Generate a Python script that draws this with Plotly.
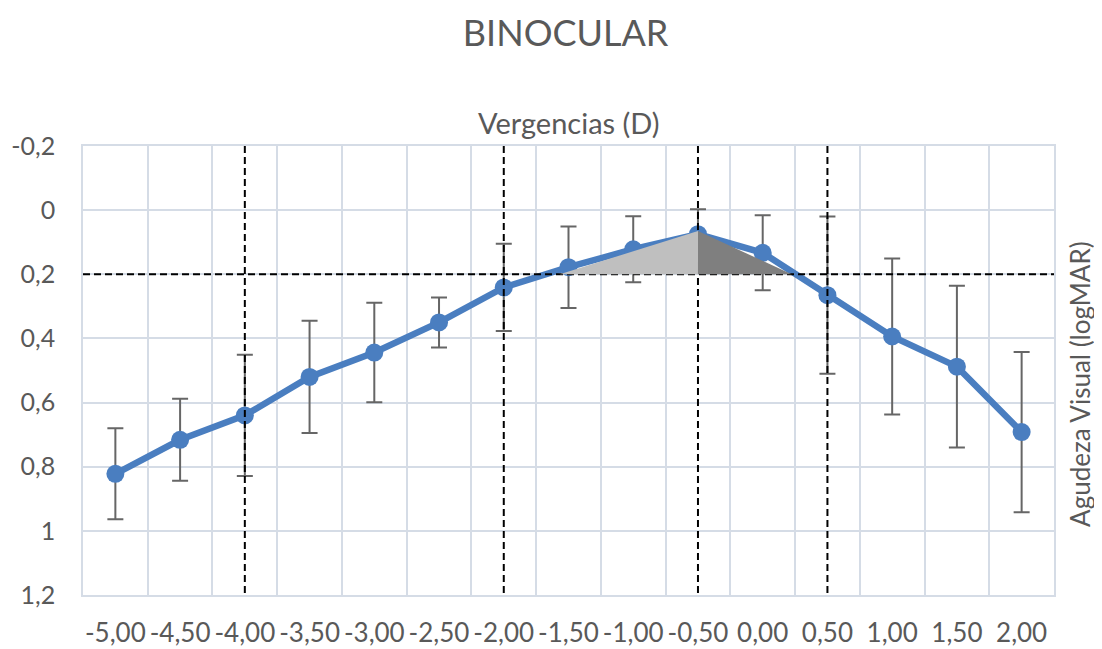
import plotly.graph_objects as go

# ---- data ----
vergencias = [-5.0, -4.5, -4.0, -3.5, -3.0, -2.5, -2.0, -1.5, -1.0, -0.5, 0.0, 0.5, 1.0, 1.5, 2.0]
x_labels = ["-5,00", "-4,50", "-4,00", "-3,50", "-3,00", "-2,50", "-2,00", "-1,50",
            "-1,00", "-0,50", "0,00", "0,50", "1,00", "1,50", "2,00"]
av_logmar = [0.822, 0.716, 0.640, 0.520, 0.444, 0.350, 0.241, 0.178, 0.122, 0.075,
             0.133, 0.265, 0.394, 0.488, 0.692]
av_err = [0.142, 0.128, 0.189, 0.175, 0.155, 0.078, 0.136, 0.127, 0.103, 0.078,
          0.117, 0.245, 0.243, 0.252, 0.250]
y_ticks = [-0.2, 0.0, 0.2, 0.4, 0.6, 0.8, 1.0, 1.2]
y_labels = ["-0,2", "0", "0,2", "0,4", "0,6", "0,8", "1", "1,2"]

threshold_av = 0.2
ref_vergencias = [-4.0, -2.0, -0.5, 0.5]

tri_light_x = [-1.567, -0.5, -0.5]
tri_light_y = [0.2, 0.065, 0.2]
tri_dark_x = [-0.5, -0.5, 0.224]
tri_dark_y = [0.065, 0.2, 0.2]

x_range = [-5.25, 2.25]
y_range = [1.2, -0.2]

FONT = "Lato"
GRAY_TXT = "#595959"
GRID = "#D5DCE6"
BLUE = "#4A7EC0"

fig = go.Figure()

# series with error bars
fig.add_trace(go.Scatter(
    x=vergencias, y=av_logmar, mode="lines+markers",
    line=dict(color=BLUE, width=6.5),
    marker=dict(color=BLUE, size=18),
    error_y=dict(type="data", array=av_err, visible=True,
                 color="#666666", thickness=2, width=8),
    showlegend=False, hoverinfo="skip"))

# dashed reference lines
dash_style = "7px,4px"
fig.add_trace(go.Scatter(
    x=x_range, y=[threshold_av, threshold_av], mode="lines",
    line=dict(color="black", width=2, dash=dash_style),
    showlegend=False, hoverinfo="skip"))
for xv in ref_vergencias:
    fig.add_trace(go.Scatter(
        x=[xv, xv], y=[y_range[1], y_range[0]], mode="lines",
        line=dict(color="black", width=2, dash=dash_style),
        showlegend=False, hoverinfo="skip"))

# shaded triangles
fig.add_trace(go.Scatter(
    x=tri_light_x, y=tri_light_y, mode="lines", fill="toself",
    fillcolor="#BFBFBF", line=dict(width=0, color="#BFBFBF"),
    showlegend=False, hoverinfo="skip"))
fig.add_trace(go.Scatter(
    x=tri_dark_x, y=tri_dark_y, mode="lines", fill="toself",
    fillcolor="#7F7F7F", line=dict(width=0, color="#7F7F7F"),
    showlegend=False, hoverinfo="skip"))

fig.update_layout(
    width=1102, height=649,
    margin=dict(l=75, r=56, t=138, b=62, autoexpand=False),
    paper_bgcolor="white", plot_bgcolor="white",
    font=dict(family=FONT, color=GRAY_TXT),
    title=dict(text="BINOCULAR", x=0.506, xanchor="center", y=0.961, yanchor="middle",
               font=dict(family=FONT, size=36, color=GRAY_TXT)),
    annotations=[
        dict(text="Vergencias (D)", xref="paper", yref="paper", x=0.5, y=1.0,
             yshift=24, xanchor="center", yanchor="middle", showarrow=False,
             font=dict(family=FONT, size=29, color=GRAY_TXT)),
        dict(text="Agudeza Visual (logMAR)", xref="paper", yref="paper", x=1.0,
             y=0.47, xshift=26, xanchor="center", yanchor="middle", textangle=-90,
             showarrow=False, font=dict(family=FONT, size=26, color=GRAY_TXT)),
    ],
)

fig.update_xaxes(
    range=x_range, tickmode="array", tickvals=vergencias, ticktext=x_labels,
    showgrid=False, zeroline=False, ticks="", ticklabelstandoff=14, automargin=False,
    tickfont=dict(family=FONT, size=26, color=GRAY_TXT),
    showline=True, linecolor=GRID, linewidth=1.5, mirror=True,
    minor=dict(tick0=-4.75, dtick=0.5, showgrid=True, gridcolor=GRID, gridwidth=1.5),
)
fig.update_yaxes(
    range=y_range, tickmode="array", tickvals=y_ticks, ticktext=y_labels,
    showgrid=True, gridcolor=GRID, gridwidth=1.5, zeroline=False, ticks="",
    ticklabelstandoff=21, automargin=False,
    tickfont=dict(family=FONT, size=25, color=GRAY_TXT),
    showline=True, linecolor=GRID, linewidth=1.5, mirror=True,
)

fig.write_html("out.html")
